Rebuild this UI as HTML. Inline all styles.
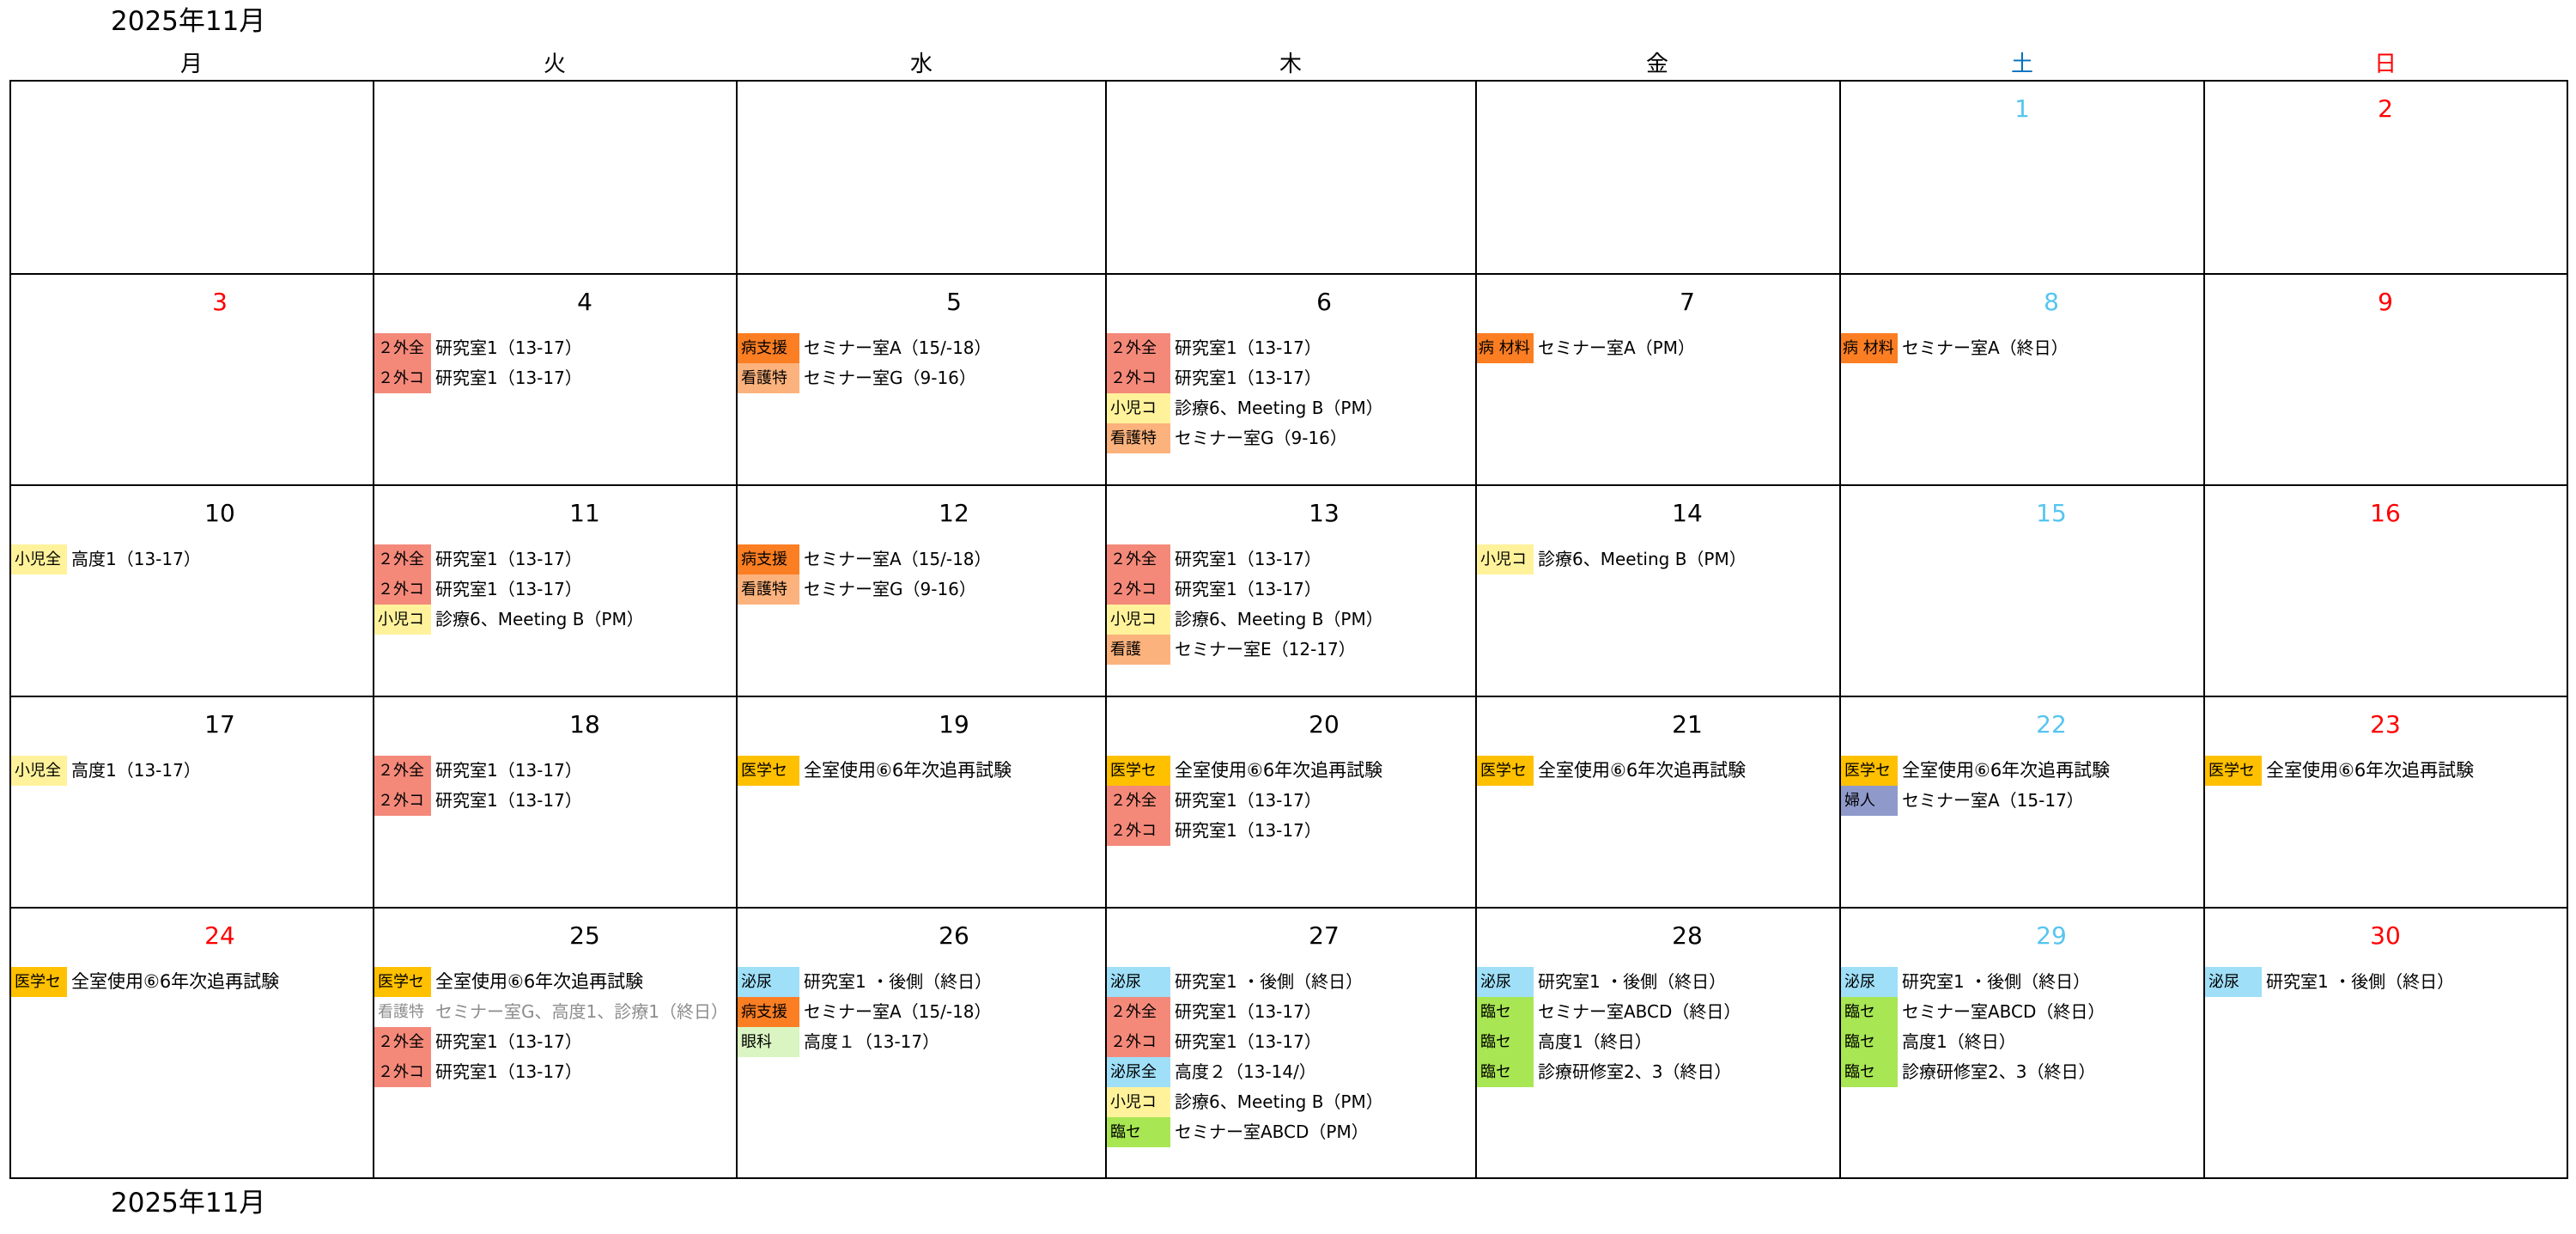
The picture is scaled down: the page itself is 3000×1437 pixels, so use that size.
<!DOCTYPE html>
<html lang="ja">
<head>
<meta charset="utf-8">
<style>
  html,body{margin:0;padding:0;background:#fff;}
  body{width:3000px;height:1437px;position:relative;overflow:hidden;
       font-family:"DejaVu Sans","Noto Sans CJK JP",sans-serif;color:#000;}
  .title{position:absolute;left:129px;font-size:31px;line-height:40px;white-space:nowrap;}
  .dn{position:absolute;top:56px;width:200px;text-align:center;font-family:"Noto Sans CJK JP",sans-serif;font-size:26px;line-height:34px;}
  .v{position:absolute;top:93px;width:2px;height:1280px;background:#000;}
  .h{position:absolute;left:11px;width:2980px;height:2px;background:#000;}
  .d{position:absolute;width:120px;text-align:center;font-size:28px;line-height:28px;}
  .red{color:#ff0000;}
  .blu{color:#56c5f0;}
  .c{position:absolute;}
  .e{display:flex;height:35px;line-height:35px;white-space:nowrap;}
  .l{width:var(--w);box-sizing:border-box;padding-left:4px;font-size:18px;overflow:hidden;flex:none;}
  .t{margin-left:5px;font-size:20px;}
  .big{font-size:21px;}
  .g{color:#8c8c8c;}
  .ga{background:#f4897a;}
  .by{background:#fb7e23;}
  .ka{background:#fcb27c;}
  .sh{background:#fff29b;}
  .ig{background:#ffc000;}
  .fu{background:#8f9acb;}
  .hi{background:#9fdff8;}
  .gk{background:#daf5c1;}
  .rs{background:#a8e653;}
</style>
</head>
<body>

<div class="title" style="top:5px;">2025年11月</div>
<div class="title" style="top:1381px;">2025年11月</div>

<!-- day names -->
<div class="dn" style="left:123px;">月</div>
<div class="dn" style="left:546px;">火</div>
<div class="dn" style="left:973px;">水</div>
<div class="dn" style="left:1403px;">木</div>
<div class="dn" style="left:1830px;">金</div>
<div class="dn" style="left:2255px;color:#0070c0;">土</div>
<div class="dn" style="left:2678px;color:#ff0000;">日</div>

<!-- grid lines -->
<div class="v" style="left:11px;"></div>
<div class="v" style="left:434px;"></div>
<div class="v" style="left:857px;"></div>
<div class="v" style="left:1287px;"></div>
<div class="v" style="left:1718px;"></div>
<div class="v" style="left:2142px;"></div>
<div class="v" style="left:2566px;"></div>
<div class="v" style="left:2989px;"></div>

<div class="h" style="top:93px;"></div>
<div class="h" style="top:318px;"></div>
<div class="h" style="top:564px;"></div>
<div class="h" style="top:810px;"></div>
<div class="h" style="top:1056px;"></div>
<div class="h" style="top:1371px;"></div>

<!-- Row 1 dates -->
<div class="d blu" style="left:2295px;top:113px;">1</div>
<div class="d red" style="left:2718px;top:113px;">2</div>

<!-- Row 2 dates -->
<div class="d red" style="left:196px;top:338px;">3</div>
<div class="d" style="left:621px;top:338px;">4</div>
<div class="d" style="left:1051px;top:338px;">5</div>
<div class="d" style="left:1482px;top:338px;">6</div>
<div class="d" style="left:1905px;top:338px;">7</div>
<div class="d blu" style="left:2329px;top:338px;">8</div>
<div class="d red" style="left:2718px;top:338px;">9</div>

<!-- Row 3 dates -->
<div class="d" style="left:196px;top:584px;">10</div>
<div class="d" style="left:621px;top:584px;">11</div>
<div class="d" style="left:1051px;top:584px;">12</div>
<div class="d" style="left:1482px;top:584px;">13</div>
<div class="d" style="left:1905px;top:584px;">14</div>
<div class="d blu" style="left:2329px;top:584px;">15</div>
<div class="d red" style="left:2718px;top:584px;">16</div>

<!-- Row 4 dates -->
<div class="d" style="left:196px;top:830px;">17</div>
<div class="d" style="left:621px;top:830px;">18</div>
<div class="d" style="left:1051px;top:830px;">19</div>
<div class="d" style="left:1482px;top:830px;">20</div>
<div class="d" style="left:1905px;top:830px;">21</div>
<div class="d blu" style="left:2329px;top:830px;">22</div>
<div class="d red" style="left:2718px;top:830px;">23</div>

<!-- Row 5 dates -->
<div class="d red" style="left:196px;top:1076px;">24</div>
<div class="d" style="left:621px;top:1076px;">25</div>
<div class="d" style="left:1051px;top:1076px;">26</div>
<div class="d" style="left:1482px;top:1076px;">27</div>
<div class="d" style="left:1905px;top:1076px;">28</div>
<div class="d blu" style="left:2329px;top:1076px;">29</div>
<div class="d red" style="left:2718px;top:1076px;">30</div>

<!-- ===== Row 2 events ===== -->
<div class="c" style="left:436px;top:388px;--w:66px;">
  <div class="e"><span class="l ga">２外全</span><span class="t">研究室1（13-17）</span></div>
  <div class="e"><span class="l ga">２外コ</span><span class="t">研究室1（13-17）</span></div>
</div>
<div class="c" style="left:859px;top:388px;--w:72px;">
  <div class="e"><span class="l by">病支援</span><span class="t">セミナー室A（15/-18）</span></div>
  <div class="e"><span class="l ka">看護特</span><span class="t">セミナー室G（9-16）</span></div>
</div>
<div class="c" style="left:1289px;top:388px;--w:74px;">
  <div class="e"><span class="l ga">２外全</span><span class="t">研究室1（13-17）</span></div>
  <div class="e"><span class="l ga">２外コ</span><span class="t">研究室1（13-17）</span></div>
  <div class="e"><span class="l sh">小児コ</span><span class="t">診療6、Meeting B（PM）</span></div>
  <div class="e"><span class="l ka">看護特</span><span class="t">セミナー室G（9-16）</span></div>
</div>
<div class="c" style="left:1720px;top:388px;--w:66px;">
  <div class="e"><span class="l by" style="padding-left:2px;">病 材料</span><span class="t">セミナー室A（PM）</span></div>
</div>
<div class="c" style="left:2144px;top:388px;--w:66px;">
  <div class="e"><span class="l by" style="padding-left:2px;">病 材料</span><span class="t">セミナー室A（終日）</span></div>
</div>

<!-- ===== Row 3 events ===== -->
<div class="c" style="left:13px;top:634px;--w:65px;">
  <div class="e"><span class="l sh">小児全</span><span class="t">高度1（13-17）</span></div>
</div>
<div class="c" style="left:436px;top:634px;--w:66px;">
  <div class="e"><span class="l ga">２外全</span><span class="t">研究室1（13-17）</span></div>
  <div class="e"><span class="l ga">２外コ</span><span class="t">研究室1（13-17）</span></div>
  <div class="e"><span class="l sh">小児コ</span><span class="t">診療6、Meeting B（PM）</span></div>
</div>
<div class="c" style="left:859px;top:634px;--w:72px;">
  <div class="e"><span class="l by">病支援</span><span class="t">セミナー室A（15/-18）</span></div>
  <div class="e"><span class="l ka">看護特</span><span class="t">セミナー室G（9-16）</span></div>
</div>
<div class="c" style="left:1289px;top:634px;--w:74px;">
  <div class="e"><span class="l ga">２外全</span><span class="t">研究室1（13-17）</span></div>
  <div class="e"><span class="l ga">２外コ</span><span class="t">研究室1（13-17）</span></div>
  <div class="e"><span class="l sh">小児コ</span><span class="t">診療6、Meeting B（PM）</span></div>
  <div class="e"><span class="l ka">看護</span><span class="t">セミナー室E（12-17）</span></div>
</div>
<div class="c" style="left:1720px;top:634px;--w:66px;">
  <div class="e"><span class="l sh">小児コ</span><span class="t">診療6、Meeting B（PM）</span></div>
</div>

<!-- ===== Row 4 events ===== -->
<div class="c" style="left:13px;top:880px;--w:65px;">
  <div class="e"><span class="l sh">小児全</span><span class="t">高度1（13-17）</span></div>
</div>
<div class="c" style="left:436px;top:880px;--w:66px;">
  <div class="e"><span class="l ga">２外全</span><span class="t">研究室1（13-17）</span></div>
  <div class="e"><span class="l ga">２外コ</span><span class="t">研究室1（13-17）</span></div>
</div>
<div class="c" style="left:859px;top:880px;--w:72px;">
  <div class="e"><span class="l ig">医学セ</span><span class="t big">全室使用⑥6年次追再試験</span></div>
</div>
<div class="c" style="left:1289px;top:880px;--w:74px;">
  <div class="e"><span class="l ig">医学セ</span><span class="t big">全室使用⑥6年次追再試験</span></div>
  <div class="e"><span class="l ga">２外全</span><span class="t">研究室1（13-17）</span></div>
  <div class="e"><span class="l ga">２外コ</span><span class="t">研究室1（13-17）</span></div>
</div>
<div class="c" style="left:1720px;top:880px;--w:66px;">
  <div class="e"><span class="l ig">医学セ</span><span class="t big">全室使用⑥6年次追再試験</span></div>
</div>
<div class="c" style="left:2144px;top:880px;--w:66px;">
  <div class="e"><span class="l ig">医学セ</span><span class="t big">全室使用⑥6年次追再試験</span></div>
  <div class="e"><span class="l fu">婦人</span><span class="t">セミナー室A（15-17）</span></div>
</div>
<div class="c" style="left:2568px;top:880px;--w:66px;">
  <div class="e"><span class="l ig">医学セ</span><span class="t big">全室使用⑥6年次追再試験</span></div>
</div>

<!-- ===== Row 5 events ===== -->
<div class="c" style="left:13px;top:1126px;--w:65px;">
  <div class="e"><span class="l ig">医学セ</span><span class="t big">全室使用⑥6年次追再試験</span></div>
</div>
<div class="c" style="left:436px;top:1126px;--w:66px;">
  <div class="e"><span class="l ig">医学セ</span><span class="t big">全室使用⑥6年次追再試験</span></div>
  <div class="e"><span class="l g">看護特</span><span class="t g">セミナー室G、高度1、診療1（終日）</span></div>
  <div class="e"><span class="l ga">２外全</span><span class="t">研究室1（13-17）</span></div>
  <div class="e"><span class="l ga">２外コ</span><span class="t">研究室1（13-17）</span></div>
</div>
<div class="c" style="left:859px;top:1126px;--w:72px;">
  <div class="e"><span class="l hi">泌尿</span><span class="t">研究室1 ・後側（終日）</span></div>
  <div class="e"><span class="l by">病支援</span><span class="t">セミナー室A（15/-18）</span></div>
  <div class="e"><span class="l gk">眼科</span><span class="t">高度１（13-17）</span></div>
</div>
<div class="c" style="left:1289px;top:1126px;--w:74px;">
  <div class="e"><span class="l hi">泌尿</span><span class="t">研究室1 ・後側（終日）</span></div>
  <div class="e"><span class="l ga">２外全</span><span class="t">研究室1（13-17）</span></div>
  <div class="e"><span class="l ga">２外コ</span><span class="t">研究室1（13-17）</span></div>
  <div class="e"><span class="l hi">泌尿全</span><span class="t">高度２（13-14/）</span></div>
  <div class="e"><span class="l sh">小児コ</span><span class="t">診療6、Meeting B（PM）</span></div>
  <div class="e"><span class="l rs">臨セ</span><span class="t">セミナー室ABCD（PM）</span></div>
</div>
<div class="c" style="left:1720px;top:1126px;--w:66px;">
  <div class="e"><span class="l hi">泌尿</span><span class="t">研究室1 ・後側（終日）</span></div>
  <div class="e"><span class="l rs">臨セ</span><span class="t">セミナー室ABCD（終日）</span></div>
  <div class="e"><span class="l rs">臨セ</span><span class="t">高度1（終日）</span></div>
  <div class="e"><span class="l rs">臨セ</span><span class="t">診療研修室2、3（終日）</span></div>
</div>
<div class="c" style="left:2144px;top:1126px;--w:66px;">
  <div class="e"><span class="l hi">泌尿</span><span class="t">研究室1 ・後側（終日）</span></div>
  <div class="e"><span class="l rs">臨セ</span><span class="t">セミナー室ABCD（終日）</span></div>
  <div class="e"><span class="l rs">臨セ</span><span class="t">高度1（終日）</span></div>
  <div class="e"><span class="l rs">臨セ</span><span class="t">診療研修室2、3（終日）</span></div>
</div>
<div class="c" style="left:2568px;top:1126px;--w:66px;">
  <div class="e"><span class="l hi">泌尿</span><span class="t">研究室1 ・後側（終日）</span></div>
</div>

</body>
</html>
